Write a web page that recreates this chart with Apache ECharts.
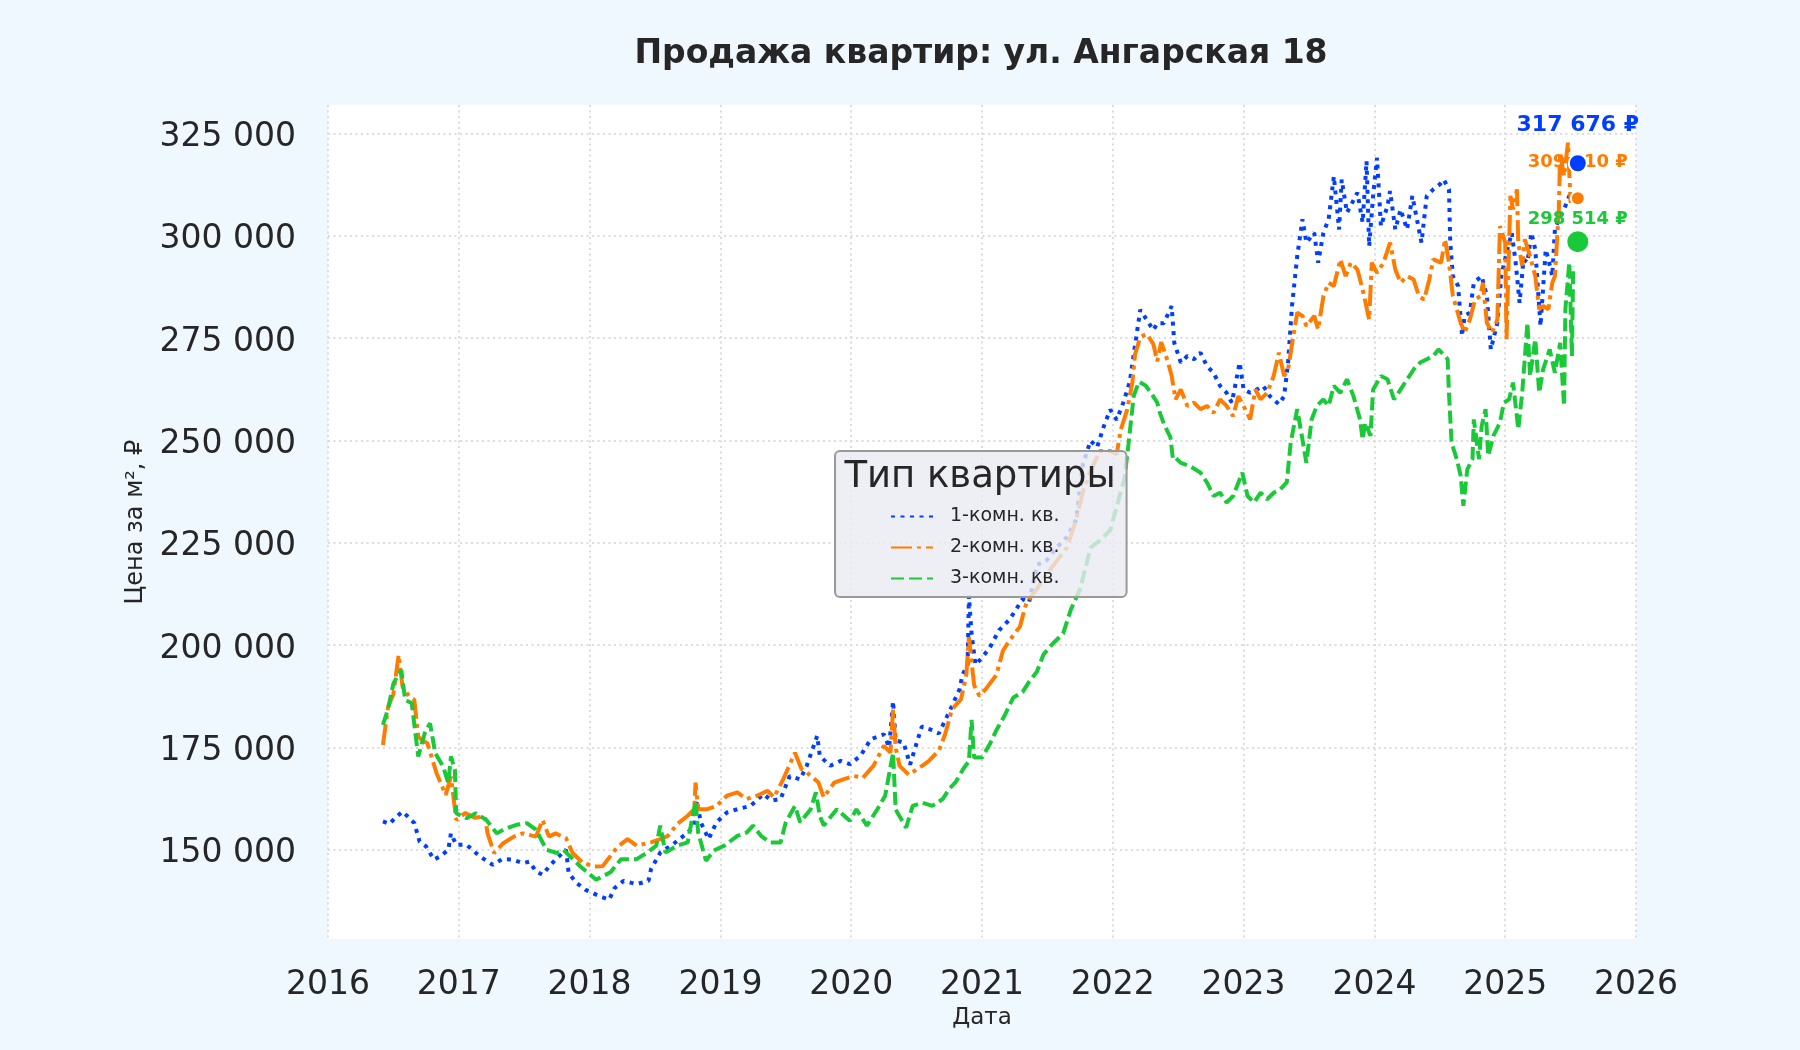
<!DOCTYPE html>
<html>
<head>
<meta charset="utf-8">
<title>Продажа квартир: ул. Ангарская 18</title>
<script src="https://cdn.jsdelivr.net/npm/echarts@6/dist/echarts.min.js"></script>
<style>
    html, body { margin: 0; padding: 0; background: #f0f8ff; }
    #chart { width: 1800px; height: 1050px; }
</style>
</head>
<body>
<div id="chart"></div>
<script>
// названия рядов (типы квартир)
const seriesNames = ['1-комн. кв.', '2-комн. кв.', '3-комн. кв.'];
const seriesColors = ['#023eff', '#ff7c00', '#1ac938'];

// деления осей
const yTicks = [150000, 175000, 200000, 225000, 250000, 275000, 300000, 325000];
const yMin = 128200;
const yMax = 331900;
const xMin = 2016;
const xMax = 2026;

// цена за м² по датам (дата — доля года)
const room1 = [
    [2016.42, 156900], [2016.47, 156300], [2016.52, 158000], [2016.57, 159300], [2016.61, 158100],
    [2016.66, 156500], [2016.70, 152000], [2016.75, 150800], [2016.81, 147600], [2016.86, 148400],
    [2016.92, 150000], [2016.94, 154000], [2016.98, 151200], [2017.06, 151200], [2017.11, 149800],
    [2017.16, 148400], [2017.26, 146300], [2017.33, 147700], [2017.41, 147600], [2017.49, 146700],
    [2017.54, 147100], [2017.59, 144700], [2017.64, 143900], [2017.69, 145900], [2017.74, 147600],
    [2017.82, 150000], [2017.84, 144300], [2017.90, 141900], [2017.97, 140200], [2018.08, 138600],
    [2018.15, 137800], [2018.19, 140600], [2018.26, 142400], [2018.36, 141600], [2018.45, 142400],
    [2018.47, 145300], [2018.54, 149300], [2018.64, 151400], [2018.75, 154200], [2018.80, 155900],
    [2018.82, 162000], [2018.85, 156700], [2018.91, 152600], [2018.97, 156700], [2019.05, 159100],
    [2019.13, 159900], [2019.23, 160700], [2019.33, 163600], [2019.39, 162000], [2019.46, 162400],
    [2019.53, 168000], [2019.61, 167200], [2019.66, 170500], [2019.74, 177800], [2019.76, 172900],
    [2019.84, 170500], [2019.92, 171700], [2019.99, 170900], [2020.07, 172900], [2020.15, 177000],
    [2020.25, 178200], [2020.29, 175000], [2020.32, 186300], [2020.34, 176700], [2020.40, 176200],
    [2020.45, 170800], [2020.49, 175000], [2020.54, 180100], [2020.62, 179200], [2020.67, 178400],
    [2020.72, 181700], [2020.77, 185100], [2020.83, 189300], [2020.85, 192700], [2020.89, 195200],
    [2020.90, 212000], [2020.92, 202800], [2020.95, 195200], [2021.00, 196900], [2021.06, 199400],
    [2021.13, 203600], [2021.21, 206200], [2021.26, 208700], [2021.31, 211200], [2021.36, 210400],
    [2021.42, 219600], [2021.49, 220500], [2021.57, 223800], [2021.65, 226400], [2021.72, 230600],
    [2021.77, 244000], [2021.83, 249900], [2021.88, 248300], [2021.93, 253300], [2021.98, 257500],
    [2022.03, 255000], [2022.08, 259200], [2022.13, 264300], [2022.16, 271000], [2022.21, 281900],
    [2022.26, 279400], [2022.31, 276900], [2022.34, 278600], [2022.39, 278600], [2022.45, 282800],
    [2022.47, 273800], [2022.52, 269000], [2022.57, 270600], [2022.62, 269800], [2022.67, 271400],
    [2022.72, 268100], [2022.77, 266500], [2022.82, 263300], [2022.87, 261600], [2022.91, 259200],
    [2022.97, 269000], [2023.00, 262400], [2023.05, 261600], [2023.10, 262400], [2023.15, 263300],
    [2023.20, 260800], [2023.27, 258800], [2023.31, 260800], [2023.34, 269000], [2023.37, 282800],
    [2023.41, 295000], [2023.45, 304000], [2023.48, 298300], [2023.54, 300700], [2023.57, 293400],
    [2023.61, 300700], [2023.65, 304000], [2023.69, 314500], [2023.73, 301500], [2023.75, 313700],
    [2023.79, 305600], [2023.83, 308000], [2023.87, 310500], [2023.91, 303200], [2023.94, 318200],
    [2023.96, 297400], [2023.99, 309700], [2024.02, 319000], [2024.05, 302300], [2024.10, 307200],
    [2024.12, 310900], [2024.16, 301500], [2024.20, 306400], [2024.25, 301500], [2024.29, 309700],
    [2024.33, 303200], [2024.36, 298300], [2024.40, 309700], [2024.45, 311300], [2024.50, 312500],
    [2024.53, 313700], [2024.57, 311300], [2024.58, 298300], [2024.60, 290100], [2024.64, 287700],
    [2024.67, 275500], [2024.69, 280400], [2024.73, 281200], [2024.76, 288500], [2024.82, 290100],
    [2024.86, 285200], [2024.89, 272200], [2024.94, 278700], [2024.97, 290100], [2025.01, 295800],
    [2025.05, 300700], [2025.08, 293400], [2025.11, 283600], [2025.14, 294200], [2025.17, 293400],
    [2025.20, 300700], [2025.23, 296600], [2025.27, 277900], [2025.31, 296600], [2025.33, 294200],
    [2025.36, 290100], [2025.38, 301500], [2025.41, 304000], [2025.45, 306400], [2025.50, 310500]
];

const room2 = [
    [2016.42, 175600], [2016.46, 185000], [2016.50, 188000], [2016.54, 197600], [2016.57, 189800],
    [2016.62, 187500], [2016.66, 186600], [2016.69, 177600], [2016.73, 176500], [2016.76, 176000],
    [2016.83, 168700], [2016.90, 163400], [2016.94, 167900], [2016.98, 157300], [2017.05, 159000],
    [2017.12, 157800], [2017.20, 158100], [2017.22, 154000], [2017.27, 149200], [2017.34, 151600],
    [2017.42, 153200], [2017.49, 154000], [2017.59, 153200], [2017.64, 157300], [2017.69, 153200],
    [2017.74, 154000], [2017.82, 152800], [2017.87, 149200], [2017.95, 146700], [2018.05, 145900],
    [2018.10, 146000], [2018.16, 148500], [2018.21, 150600], [2018.29, 152600], [2018.36, 151000],
    [2018.47, 151800], [2018.54, 152600], [2018.60, 153400], [2018.67, 156300], [2018.75, 158300],
    [2018.80, 159900], [2018.81, 166400], [2018.83, 159900], [2018.90, 159900], [2018.97, 160700],
    [2019.05, 163200], [2019.13, 164000], [2019.20, 162400], [2019.28, 163200], [2019.36, 164400],
    [2019.41, 162800], [2019.48, 167200], [2019.57, 173700], [2019.62, 169700], [2019.66, 168900],
    [2019.75, 166400], [2019.79, 162800], [2019.87, 166400], [2019.94, 167200], [2020.02, 168000],
    [2020.09, 167600], [2020.17, 170500], [2020.25, 175400], [2020.30, 173700], [2020.32, 184300],
    [2020.34, 175000], [2020.37, 170500], [2020.44, 168300], [2020.52, 170000], [2020.59, 171600],
    [2020.67, 174200], [2020.72, 178400], [2020.77, 184300], [2020.84, 186800], [2020.88, 192700],
    [2020.90, 201900], [2020.94, 190200], [2020.98, 187600], [2021.03, 189300], [2021.11, 192700],
    [2021.16, 198600], [2021.21, 201100], [2021.29, 204500], [2021.34, 210400], [2021.42, 213700],
    [2021.49, 217100], [2021.57, 220500], [2021.65, 223800], [2021.72, 230600], [2021.77, 237300],
    [2021.83, 242400], [2021.90, 247400], [2021.98, 247400], [2022.03, 246600], [2022.06, 252500],
    [2022.11, 257500], [2022.15, 264300], [2022.17, 271000], [2022.21, 275200], [2022.26, 276000],
    [2022.31, 273500], [2022.34, 269300], [2022.37, 274000], [2022.42, 269300], [2022.45, 265700],
    [2022.48, 260000], [2022.52, 262400], [2022.57, 258400], [2022.62, 259200], [2022.67, 257600],
    [2022.72, 258400], [2022.77, 256700], [2022.82, 260000], [2022.87, 258400], [2022.92, 255900],
    [2022.96, 260800], [2023.00, 258400], [2023.05, 255100], [2023.09, 262400], [2023.13, 260000],
    [2023.18, 261600], [2023.23, 265700], [2023.27, 271400], [2023.31, 265700], [2023.34, 267300],
    [2023.38, 275500], [2023.41, 281200], [2023.45, 280400], [2023.48, 277900], [2023.54, 280400],
    [2023.57, 277100], [2023.61, 285200], [2023.65, 288500], [2023.69, 287700], [2023.74, 294200],
    [2023.78, 290100], [2023.82, 293400], [2023.87, 291700], [2023.91, 286900], [2023.96, 279500],
    [2023.98, 293400], [2024.02, 290900], [2024.07, 293400], [2024.12, 298300], [2024.16, 291700],
    [2024.20, 288500], [2024.25, 290100], [2024.30, 289300], [2024.34, 285200], [2024.38, 284400],
    [2024.42, 289300], [2024.45, 294200], [2024.51, 293400], [2024.54, 299100], [2024.57, 293400],
    [2024.60, 285200], [2024.66, 278700], [2024.69, 276300], [2024.73, 279500], [2024.77, 284400],
    [2024.81, 285200], [2024.83, 288500], [2024.86, 278700], [2024.90, 276300], [2024.94, 279500],
    [2024.96, 302300], [2025.00, 298300], [2025.01, 274700], [2025.04, 309700], [2025.06, 306400],
    [2025.09, 311300], [2025.10, 298300], [2025.13, 292600], [2025.15, 299100], [2025.19, 295000],
    [2025.23, 290100], [2025.26, 282000], [2025.29, 282800], [2025.33, 282000], [2025.36, 288500],
    [2025.38, 290100], [2025.41, 306400], [2025.42, 320200], [2025.45, 314500], [2025.48, 322700],
    [2025.50, 308000]
];

const room3 = [
    [2016.42, 180500], [2016.46, 184500], [2016.50, 190600], [2016.56, 193900], [2016.59, 186600],
    [2016.64, 185800], [2016.69, 172800], [2016.74, 178500], [2016.78, 180900], [2016.82, 173600],
    [2016.88, 170300], [2016.92, 166300], [2016.94, 172800], [2016.97, 169500], [2016.98, 158900],
    [2017.06, 157700], [2017.13, 158900], [2017.21, 157300], [2017.29, 154000], [2017.34, 154900],
    [2017.44, 156100], [2017.52, 156500], [2017.59, 154900], [2017.67, 150000], [2017.75, 149200],
    [2017.80, 150000], [2017.85, 148400], [2017.93, 145900], [2018.05, 142700], [2018.16, 144500],
    [2018.24, 147700], [2018.36, 147700], [2018.44, 149300], [2018.51, 151000], [2018.54, 155900],
    [2018.58, 149300], [2018.67, 151000], [2018.75, 151800], [2018.81, 162000], [2018.83, 154200],
    [2018.89, 147300], [2018.95, 149800], [2019.03, 151000], [2019.13, 153400], [2019.20, 154200],
    [2019.25, 155900], [2019.31, 153400], [2019.38, 151800], [2019.46, 151800], [2019.50, 156700],
    [2019.57, 160700], [2019.61, 156700], [2019.69, 159900], [2019.73, 164000], [2019.76, 158300],
    [2019.79, 155900], [2019.89, 159900], [2019.99, 157100], [2020.04, 159900], [2020.12, 155900],
    [2020.20, 159900], [2020.26, 163200], [2020.32, 173700], [2020.34, 159800], [2020.42, 155400],
    [2020.47, 160700], [2020.54, 161500], [2020.62, 160700], [2020.70, 162400], [2020.75, 164900],
    [2020.80, 166600], [2020.86, 169900], [2020.90, 171600], [2020.92, 181700], [2020.94, 172500],
    [2021.00, 172500], [2021.06, 175800], [2021.11, 179200], [2021.17, 182600], [2021.24, 187200],
    [2021.31, 188500], [2021.36, 191000], [2021.42, 193500], [2021.47, 197700], [2021.54, 200300],
    [2021.62, 202800], [2021.68, 208700], [2021.75, 213700], [2021.83, 223800], [2021.90, 225500],
    [2021.98, 228000], [2022.06, 237300], [2022.09, 240700], [2022.12, 249100], [2022.16, 260900],
    [2022.20, 264300], [2022.25, 263400], [2022.29, 261700], [2022.34, 259200], [2022.36, 256700],
    [2022.39, 254100], [2022.41, 252700], [2022.44, 250800], [2022.46, 245400], [2022.48, 245700],
    [2022.52, 244500], [2022.59, 243700], [2022.67, 242100], [2022.72, 239700], [2022.77, 236400],
    [2022.82, 237200], [2022.87, 234800], [2022.92, 236400], [2022.99, 242100], [2023.03, 236400],
    [2023.08, 234800], [2023.13, 237200], [2023.18, 235600], [2023.23, 237200], [2023.28, 238000],
    [2023.33, 239700], [2023.36, 249400], [2023.41, 257600], [2023.45, 250200], [2023.48, 244500],
    [2023.52, 255100], [2023.56, 258400], [2023.61, 260000], [2023.65, 258400], [2023.69, 263300],
    [2023.74, 261600], [2023.79, 264900], [2023.84, 260800], [2023.89, 255100], [2023.91, 250200],
    [2023.93, 254300], [2023.97, 251100], [2023.99, 262400], [2024.05, 265700], [2024.10, 264900],
    [2024.15, 260000], [2024.20, 262400], [2024.25, 264900], [2024.30, 267300], [2024.35, 269000],
    [2024.40, 269800], [2024.45, 270600], [2024.49, 272200], [2024.54, 270600], [2024.56, 269800],
    [2024.57, 261600], [2024.59, 249400], [2024.63, 245400], [2024.66, 241300], [2024.68, 234000],
    [2024.71, 242900], [2024.75, 245400], [2024.76, 255100], [2024.80, 245400], [2024.82, 253500],
    [2024.85, 257600], [2024.87, 246200], [2024.91, 251100], [2024.96, 254300], [2024.99, 259200],
    [2025.03, 260000], [2025.06, 264100], [2025.10, 252700], [2025.13, 261600], [2025.17, 278700],
    [2025.19, 265700], [2025.23, 274700], [2025.26, 261600], [2025.29, 267300], [2025.34, 272200],
    [2025.38, 266500], [2025.42, 273800], [2025.45, 258400], [2025.46, 282000], [2025.49, 293400],
    [2025.51, 270600], [2025.52, 292600]
];

// последние значения (точки с подписями)
const lastYear = 2025.555;
const lastPrices = [317676, 309110, 298514];

const font = 'DejaVu Sans';
const textColor = '#262626';

/**
 * число с пробелами между разрядами
 */
function fmt(v) {
    return String(Math.round(v)).replace(/\B(?=(\d{3})+(?!\d))/g, ' ');
}

/**
 * ряд-линия для одного типа квартиры
 */
function lineSeries(name, data, color, dash) {
    return {
        name: name,
        type: 'line',
        data: data,
        symbol: 'none',
        showSymbol: false,
        clip: true,
        z: 2,
        lineStyle: { color: color, width: 4, type: dash, cap: 'butt' },
        itemStyle: { color: color },
        emphasis: { disabled: true }
    };
}

/**
 * последняя точка ряда с подписью цены
 */
function lastPoint(i, size, fontSize, dist, z) {
    return {
        name: seriesNames[i] + ' (посл.)',
        type: 'scatter',
        data: [[lastYear, lastPrices[i]]],
        symbolSize: size,
        z: z,
        silent: true,
        itemStyle: { color: seriesColors[i], borderColor: '#ffffff', borderWidth: 2, opacity: 1 },
        label: {
            show: true,
            position: 'top',
            distance: dist,
            formatter: fmt(lastPrices[i]) + ' ₽',
            color: seriesColors[i],
            fontWeight: 'bold',
            fontSize: fontSize,
            fontFamily: font
        }
    };
}

var myChart = echarts.init(document.getElementById('chart'));
myChart.setOption({
    backgroundColor: '#f0f8ff',
    animation: false,
    textStyle: { fontFamily: font, color: textColor },
    grid: {
        left: 328, right: 164, top: 105, bottom: 111,
        show: true, backgroundColor: '#ffffff', borderWidth: 0
    },
    // заголовки рисуем текстом, чтобы центрировать по области графика
    graphic: [
        {
            type: 'text', x: 981, y: 54, z: 100,
            style: {
                text: 'Продажа квартир: ул. Ангарская 18',
                align: 'center', verticalAlign: 'middle',
                fontSize: 33, fontWeight: 'bold', fontFamily: font, fill: textColor
            }
        },
        {
            type: 'text', x: 980, y: 477, z: 100,
            style: {
                text: 'Тип квартиры',
                align: 'center', verticalAlign: 'middle',
                fontSize: 37, fontFamily: font, fill: textColor
            }
        }
    ],
    legend: {
        data: seriesNames,
        orient: 'vertical',
        left: 835,
        top: 451,
        padding: [56, 67, 9, 55],
        itemWidth: 42,
        itemHeight: 14,
        itemGap: 12,
        selectedMode: false,
        backgroundColor: 'rgba(234,234,242,0.8)',
        borderColor: '#999999',
        borderWidth: 2,
        borderRadius: 5,
        itemStyle: { opacity: 0 },
        textStyle: { fontSize: 19, color: textColor, fontFamily: font, padding: [0, 0, 0, 12] }
    },
    xAxis: {
        type: 'value',
        min: xMin,
        max: xMax,
        interval: 1,
        name: 'Дата',
        nameLocation: 'middle',
        nameGap: 68,
        nameTextStyle: { fontSize: 23, color: textColor, fontFamily: font },
        axisLine: { show: false },
        axisTick: { show: false },
        axisLabel: {
            fontSize: 33, color: textColor, fontFamily: font, margin: 30,
            formatter: (v) => String(v)
        },
        splitLine: { show: true, lineStyle: { color: '#dcdcdc', width: 2, type: [2, 3.5] } }
    },
    yAxis: {
        type: 'value',
        min: yMin,
        max: yMax,
        name: 'Цена за м², ₽',
        nameLocation: 'middle',
        nameGap: 180,
        nameRotate: 90,
        nameTextStyle: { fontSize: 24, color: textColor, fontFamily: font },
        axisLine: { show: false },
        axisTick: { show: false, customValues: yTicks },
        axisLabel: {
            fontSize: 33, color: textColor, fontFamily: font, margin: 32,
            verticalAlign: 'top',
            lineHeight: 8,
            customValues: yTicks,
            formatter: (v) => fmt(v)
        },
        splitLine: { show: true, lineStyle: { color: '#dcdcdc', width: 2, type: [2, 3.5] } }
    },
    series: [
        lineSeries(seriesNames[0], room1, seriesColors[0], [4, 5.5]),
        lineSeries(seriesNames[1], room2, seriesColors[1], [21, 5, 4, 5]),
        lineSeries(seriesNames[2], room3, seriesColors[2], [13, 5]),
        lastPoint(1, 14, 18, 19, 3),
        lastPoint(2, 23, 18, 1, 4),
        lastPoint(0, 18, 22, 17, 5)
    ]
});
window.addEventListener('resize', function () {
    myChart.resize();
});
</script>
</body>
</html>
